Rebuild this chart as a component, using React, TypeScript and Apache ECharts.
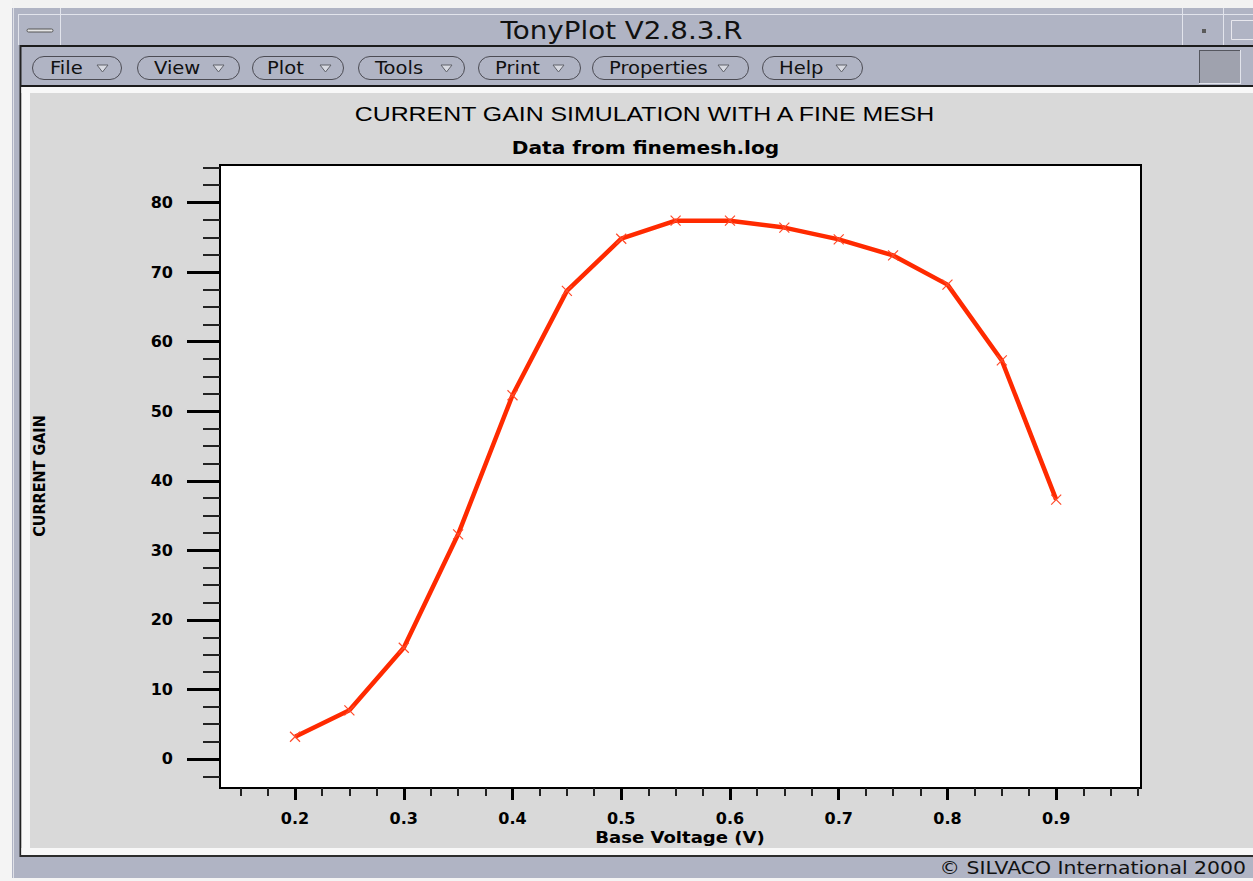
import React, { useEffect, useRef } from 'react';
import * as echarts from 'echarts';

// Base voltage sweep (V) and simulated current gain
const voltages = [0.2, 0.25, 0.3, 0.35, 0.4, 0.45, 0.5, 0.55, 0.6, 0.65, 0.7, 0.75, 0.8, 0.85, 0.9];
const gains = [3.2, 7.0, 16.0, 32.3, 52.3, 67.3, 74.8, 77.4, 77.4, 76.4, 74.7, 72.4, 68.2, 57.3, 37.3];

// Axis extents and tick positions
const X_MIN = 0.131;
const X_MAX = 0.978;
const Y_MIN = -4.17;
const Y_MAX = 85.4;
const xMajorTicks = [0.2, 0.3, 0.4, 0.5, 0.6, 0.7, 0.8, 0.9];
const xMinorTicks = [
  0.15, 0.175, 0.225, 0.25, 0.275, 0.325, 0.35, 0.375, 0.425, 0.45, 0.475, 0.525, 0.55,
  0.575, 0.625, 0.65, 0.675, 0.725, 0.75, 0.775, 0.825, 0.85, 0.875, 0.925, 0.95, 0.975,
];
const yMajorTicks = [0, 10, 20, 30, 40, 50, 60, 70, 80];
const yMinorTicks = [
  -2.5, 2.5, 5, 7.5, 12.5, 15, 17.5, 22.5, 25, 27.5, 32.5, 35, 37.5, 42.5, 45, 47.5,
  52.5, 55, 57.5, 62.5, 65, 67.5, 72.5, 75, 77.5, 82.5, 85,
];

// Texts
const windowTitle = 'TonyPlot V2.8.3.R';
const chartTitle = 'CURRENT GAIN SIMULATION WITH A FINE MESH';
const chartSubtitle = 'Data from finemesh.log';
const xAxisName = 'Base Voltage (V)';
const yAxisName = 'CURRENT GAIN';
const statusText = '\u00A9 SILVACO International 2000';
const menuItems = ['File', 'View', 'Plot', 'Tools', 'Print', 'Properties', 'Help'];

// Menu button layout: [left, right, text x, arrow x]
const menuLayout = [
  [32, 121, 50, 97],
  [137, 239, 154, 213],
  [252, 343, 267, 320],
  [358, 464, 375, 441],
  [478, 580, 495, 553],
  [592, 748, 609, 718],
  [762, 862, 779, 836],
];

const FRAME = '#b0b4c4';
const CANVAS = '#d9d9d9';
const LUCIDA = "'DejaVu Sans', Verdana, sans-serif";

function buildChrome(): any[] {
  const els: any[] = [];
  const rect = (x: number, y: number, w: number, h: number, fill: string) =>
    els.push({ type: 'rect', silent: true, shape: { x, y, width: w, height: h }, style: { fill } });
  const line = (x1: number, y1: number, x2: number, y2: number, stroke: string, lw = 1) =>
    els.push({ type: 'line', silent: true, shape: { x1, y1, x2, y2 }, style: { stroke, lineWidth: lw } });

  // outer desktop strips
  rect(0, 0, 1253, 8, '#f2f2f2');
  rect(0, 0, 12, 881, '#f4f4f4');
  rect(0, 878, 1253, 3, '#f4f4f4');

  // window frame pieces around the plot canvas
  rect(12, 8, 1241, 79, FRAME);
  rect(12, 8, 8, 870, FRAME);
  rect(12, 857, 1241, 21, FRAME);
  line(13.5, 8, 13.5, 878, '#dfe1e8');
  line(18, 14.5, 1253, 14.5, '#e2e4ec');
  line(18.5, 14, 18.5, 45, '#e2e4ec');
  line(60.5, 8, 60.5, 45, '#e2e4ec');
  line(1182.5, 8, 1182.5, 45, '#e2e4ec');
  line(1223.5, 8, 1223.5, 45, '#e2e4ec');
  els.push({ type: 'rect', silent: true, shape: { x: 27, y: 29, width: 26, height: 3, r: 1.5 }, style: { fill: '#e6e6e6', stroke: '#555', lineWidth: 1 } });
  rect(1202, 29, 4, 4, '#5a5a5a');
  els.push({ type: 'rect', silent: true, shape: { x: 1231.5, y: 20.5, width: 30, height: 19 }, style: { fill: 'none', stroke: '#e8e8ee', lineWidth: 1 } });
  els.push({
    type: 'text', silent: true, x: 621.5, y: 30.5, scaleX: 1.157,
    style: { text: windowTitle, fontFamily: LUCIDA, fontSize: 24, fill: '#111', align: 'center', verticalAlign: 'middle' },
  });

  // separators around the menu bar
  rect(20, 45, 1233, 2, '#1c1c1c');
  rect(20, 85, 1233, 2, '#1c1c1c');
  rect(19.5, 45, 2, 812, '#222');

  // menu buttons
  menuItems.forEach((label, i) => {
    const [x0, x1, tx, ax] = menuLayout[i];
    els.push({ type: 'rect', silent: true, z: 1, shape: { x: x0 + 0.5, y: 56.5, width: x1 - x0, height: 23, r: 11.5 }, style: { fill: FRAME, stroke: '#4c4c54', lineWidth: 1 } });
    els.push({
      type: 'text', silent: true, z: 2, x: tx, y: 67.5, scaleX: 1.15,
      style: { text: label, fontFamily: LUCIDA, fontSize: 17, fill: '#111', align: 'left', verticalAlign: 'middle' },
    });
    els.push({ type: 'polygon', silent: true, z: 2, shape: { points: [[ax, 65], [ax + 11, 65], [ax + 5.5, 72]] }, style: { fill: '#d8dae2', stroke: '#60626a', lineWidth: 1 } });
  });
  rect(1199, 50, 42, 34, '#9fa2ae');
  line(1199.5, 50, 1199.5, 84, '#55575f');
  line(1199, 50.5, 1241, 50.5, '#55575f');
  line(1240.5, 50, 1240.5, 84, '#e2e4ec');
  line(1199, 83.5, 1241, 83.5, '#e2e4ec');

  // white inner border of the plot canvas
  rect(21.5, 87, 1231.5, 6, '#f8f8f8');
  rect(21.5, 87, 8.5, 768, '#f8f8f8');
  rect(21.5, 848, 1231.5, 7, '#f8f8f8');
  rect(20, 855, 1233, 2, '#2c2c2c');

  // status line
  els.push({
    type: 'text', silent: true, x: 1246, y: 868, scaleX: 1.2,
    style: { text: statusText, fontFamily: LUCIDA, fontSize: 17, fill: '#111', align: 'right', verticalAlign: 'middle' },
  });

  // chart titles and axis names
  els.push({
    type: 'text', silent: true, x: 644.5, y: 114, scaleX: 1.185,
    style: { text: chartTitle, fontFamily: "'Liberation Sans', Arial, sans-serif", fontSize: 21, fill: '#000', align: 'center', verticalAlign: 'middle' },
  });
  els.push({
    type: 'text', silent: true, x: 645.5, y: 148, scaleX: 1.15,
    style: { text: chartSubtitle, fontFamily: LUCIDA, fontWeight: 'bold', fontSize: 17.5, fill: '#000', align: 'center', verticalAlign: 'middle' },
  });
  els.push({
    type: 'text', silent: true, x: 680, y: 837.5, scaleX: 1.13,
    style: { text: xAxisName, fontFamily: LUCIDA, fontWeight: 'bold', fontSize: 16, fill: '#000', align: 'center', verticalAlign: 'middle' },
  });
  els.push({
    type: 'text', silent: true, x: 39.5, y: 476, rotation: Math.PI / 2, scaleX: 0.9,
    style: { text: yAxisName, fontFamily: LUCIDA, fontWeight: 'bold', fontSize: 16, fill: '#000', align: 'center', verticalAlign: 'middle' },
  });
  return els;
}

const tickFont = { fontFamily: LUCIDA, fontWeight: 'bold' as const, fontSize: 16, color: '#000' };

export default function App() {
  const ref = useRef<HTMLDivElement>(null);

  useEffect(() => {
    if (!ref.current) return;
    const chart = echarts.init(ref.current, undefined, { renderer: 'svg' });
    const points = voltages.map((v, i) => [v, gains[i]]);

    chart.setOption({
      animation: false,
      backgroundColor: CANVAS,
      grid: {
        left: 220, top: 165, right: 112, bottom: 93,
        show: true, backgroundColor: '#ffffff', borderColor: '#000', borderWidth: 2,
      },
      xAxis: [
        {
          type: 'value', min: X_MIN, max: X_MAX, position: 'bottom',
          axisLine: { show: true, onZero: false, lineStyle: { color: '#000', width: 2 } },
          axisTick: { show: true, customValues: xMajorTicks, length: 12, lineStyle: { color: '#000', width: 3 } },
          axisLabel: { customValues: xMajorTicks, margin: 22, formatter: (v: number) => v.toFixed(1), ...tickFont },
          splitLine: { show: false },
        },
        {
          type: 'value', min: X_MIN, max: X_MAX, position: 'bottom',
          axisLine: { show: false, onZero: false },
          axisTick: { show: true, customValues: xMinorTicks, length: 8, lineStyle: { color: '#222', width: 2 } },
          axisLabel: { show: false },
          splitLine: { show: false },
        },
      ],
      yAxis: [
        {
          type: 'value', min: Y_MIN, max: Y_MAX, position: 'left',
          axisLine: { show: true, onZero: false, lineStyle: { color: '#000', width: 2 } },
          axisTick: { show: true, customValues: yMajorTicks, length: 33, lineStyle: { color: '#000', width: 3 } },
          axisLabel: { customValues: yMajorTicks, margin: 47, ...tickFont },
          splitLine: { show: false },
        },
        {
          type: 'value', min: Y_MIN, max: Y_MAX, position: 'left',
          axisLine: { show: false, onZero: false },
          axisTick: { show: true, customValues: yMinorTicks, length: 17, lineStyle: { color: '#222', width: 2 } },
          axisLabel: { show: false },
          splitLine: { show: false },
        },
      ],
      graphic: buildChrome(),
      series: [
        {
          type: 'line',
          xAxisIndex: 0,
          yAxisIndex: 0,
          data: points,
          lineStyle: { color: '#ff2a00', width: 4.5 },
          symbol: 'path://M0,0L10,10M10,0L0,10',
          symbolSize: 10,
          showSymbol: true,
          itemStyle: { color: '#ff4a2a', borderColor: '#ff4a2a', borderWidth: 1.2 },
          z: 3,
        },
      ],
    });

    return () => chart.dispose();
  }, []);

  return (
    <div
      ref={ref}
      style={{ position: 'fixed', left: 0, top: 0, width: 1253, height: 881 }}
    />
  );
}
